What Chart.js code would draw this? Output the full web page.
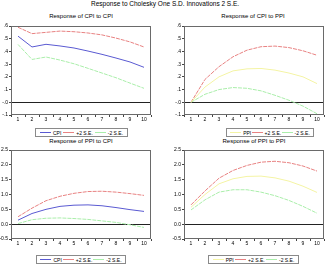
<!DOCTYPE html>
<html><head><meta charset="utf-8">
<script src="https://cdn.jsdelivr.net/npm/chart.js@4"></script>
<style>
html,body{margin:0;padding:0;background:#fff;}
body{width:326px;height:267px;position:relative;overflow:hidden;font-family:"Liberation Sans",Arial,sans-serif;color:#000;}
canvas{position:absolute;}
.t{position:absolute;white-space:nowrap;line-height:1;}
.pt{font-size:6px;transform:translate(-50%,-50%);}
.lg{position:absolute;border:1px solid #8a8a8a;box-sizing:border-box;display:flex;align-items:center;justify-content:space-around;font-size:5px;padding:0 3px;background:#fff;}
.it{display:flex;align-items:center;white-space:nowrap;}
.sw{display:inline-block;width:11px;height:0;border-top:1px solid;margin-right:2px;}
</style></head><body>
<div class="t" style="left:91px;top:1px;font-size:6.5px;">Response to Cholesky One S.D. Innovations 2 S.E.</div>
<div class="t pt" style="left:81px;top:16px;">Response of CPI to CPI</div>
<div class="t pt" style="left:253px;top:16px;">Response of CPI to PPI</div>
<div class="t pt" style="left:81px;top:141px;">Response of PPI to CPI</div>
<div class="t pt" style="left:254px;top:141px;">Response of PPI to PPI</div>
<canvas id="c1" width="163" height="125" style="left:0;top:0;width:163px;height:125px"></canvas>
<canvas id="c2" width="163" height="125" style="left:163px;top:0;width:163px;height:125px"></canvas>
<canvas id="c3" width="163" height="124" style="left:0;top:125px;width:163px;height:124px"></canvas>
<canvas id="c4" width="163" height="124" style="left:163px;top:125px;width:163px;height:124px"></canvas>
<div id="legends"></div>
<script>
// ---- data ----
const periods = ['1','2','3','4','5','6','7','8','9','10'];
const cpiToCpi   = [0.52,0.435,0.456,0.443,0.427,0.403,0.377,0.348,0.317,0.275];
const cpiToCpiUp = [0.59,0.54,0.55,0.56,0.555,0.545,0.53,0.505,0.475,0.435];
const cpiToCpiLo = [0.455,0.337,0.356,0.332,0.303,0.267,0.23,0.193,0.151,0.11];
const cpiToPpi   = [0,0.12,0.2,0.247,0.263,0.266,0.253,0.23,0.2,0.147];
const cpiToPpiUp = [0,0.18,0.28,0.358,0.41,0.437,0.442,0.43,0.405,0.37];
const cpiToPpiLo = [0,0.063,0.1,0.116,0.11,0.09,0.055,0.016,-0.03,-0.09];
const ppiToCpi   = [0.135,0.36,0.5,0.6,0.64,0.65,0.62,0.56,0.49,0.43];
const ppiToCpiUp = [0.25,0.54,0.79,0.94,1.04,1.1,1.11,1.08,1.03,0.97];
const ppiToCpiLo = [0.02,0.15,0.2,0.21,0.19,0.16,0.11,0.06,-0.02,-0.11];
const ppiToPpi   = [0.57,1.0,1.36,1.53,1.61,1.62,1.56,1.45,1.28,1.07];
const ppiToPpiUp = [0.65,1.12,1.55,1.81,1.98,2.09,2.12,2.07,1.96,1.79];
const ppiToPpiLo = [0.48,0.82,1.08,1.16,1.16,1.08,0.96,0.8,0.6,0.37];
const smallTicks = [-0.1,0.6,0.1];
const bigTicks = [-0.5,2.5,0.5];

const COL = {CPI:'#5a5ad2', PPI:'#f4f4a4', up:'#e88282', lo:'#aaeeaa'};

Chart.defaults.font.family = '"Liberation Sans", Arial, sans-serif';
Chart.defaults.color = '#000';

const frame = {
  id:'frame',
  afterDraw(chart){
    const a = chart.chartArea, c = chart.ctx;
    c.save(); c.strokeStyle='#6a6a6a'; c.lineWidth=1;
    c.strokeRect(Math.round(a.left)+0.5, Math.round(a.top)+0.5, Math.round(a.right-a.left)-1, Math.round(a.bottom-a.top)-1);
    c.restore();
  }
};

function fmtSmall(v){ let s=v.toFixed(1); return s.replace(/^(-?)0\./,'$1.'); }
function fmtBig(v){ return v.toFixed(1); }

function make(id, name, main, up, lo, tk, fmt, yw, padR, padT){
  new Chart(document.getElementById(id), {
    type:'line',
    data:{labels:periods, datasets:[
      {label:name, data:main, borderColor:COL[name], borderWidth:1, pointRadius:0, tension:0},
      {label:'+2 S.E.', data:up, borderColor:COL.up, borderWidth:1, pointRadius:0, tension:0, borderDash:[4,1]},
      {label:'-2 S.E.', data:lo, borderColor:COL.lo, borderWidth:1, pointRadius:0, tension:0, borderDash:[4,1]}
    ]},
    options:{
      responsive:false, animation:false, devicePixelRatio:1,
      layout:{padding:{left:0,right:padR,top:padT,bottom:0}},
      plugins:{legend:{display:false}, title:{display:false}, tooltip:{enabled:false}},
      scales:{
        x:{offset:true,
           grid:{offset:true, drawOnChartArea:false, drawTicks:true, tickLength:2, tickColor:'#444'},
           border:{display:false},
           ticks:{font:{size:5}, padding:0, maxRotation:0, autoSkip:false},
           afterFit(s){ s.height=10; }},
        y:{min:tk[0], max:tk[1],
           grid:{drawTicks:true, tickLength:2, tickColor:'#444',
                 color:(ctx)=> (ctx.tick && Math.abs(ctx.tick.value)<1e-9) ? '#222' : 'rgba(0,0,0,0)'},
           border:{display:false},
           ticks:{stepSize:tk[2], font:{size:5}, padding:1, callback:(v)=>fmt(v)},
           afterFit(s){ s.width=yw; }}
      }
    },
    plugins:[frame]
  });
}

make('c1','CPI',cpiToCpi,cpiToCpiUp,cpiToCpiLo,smallTicks,fmtSmall,11,12,26);
make('c2','PPI',cpiToPpi,cpiToPpiUp,cpiToPpiLo,smallTicks,fmtSmall,21,2,26);
make('c3','CPI',ppiToCpi,ppiToCpiUp,ppiToCpiLo,bigTicks,fmtBig,11,12,25);
make('c4','PPI',ppiToPpi,ppiToPpiUp,ppiToPpiLo,bigTicks,fmtBig,21,2,25);

const legendBoxes = [
  {name:'CPI', left:35, top:128, w:93, h:9},
  {name:'PPI', left:226, top:128, w:88, h:9},
  {name:'CPI', left:36, top:255, w:90, h:9},
  {name:'PPI', left:208, top:255, w:91, h:9}
];
const host = document.getElementById('legends');
legendBoxes.forEach(b=>{
  const d=document.createElement('div'); d.className='lg';
  d.style.left=b.left+'px'; d.style.top=b.top+'px'; d.style.width=b.w+'px'; d.style.height=b.h+'px';
  [[b.name,COL[b.name]],['+2 S.E.',COL.up],['-2 S.E.',COL.lo]].forEach(([t,c])=>{
    const it=document.createElement('span'); it.className='it';
    const sw=document.createElement('span'); sw.className='sw'; sw.style.borderTopColor=c;
    it.appendChild(sw); it.appendChild(document.createTextNode(t)); d.appendChild(it);
  });
  host.appendChild(d);
});
</script>
</body></html>
